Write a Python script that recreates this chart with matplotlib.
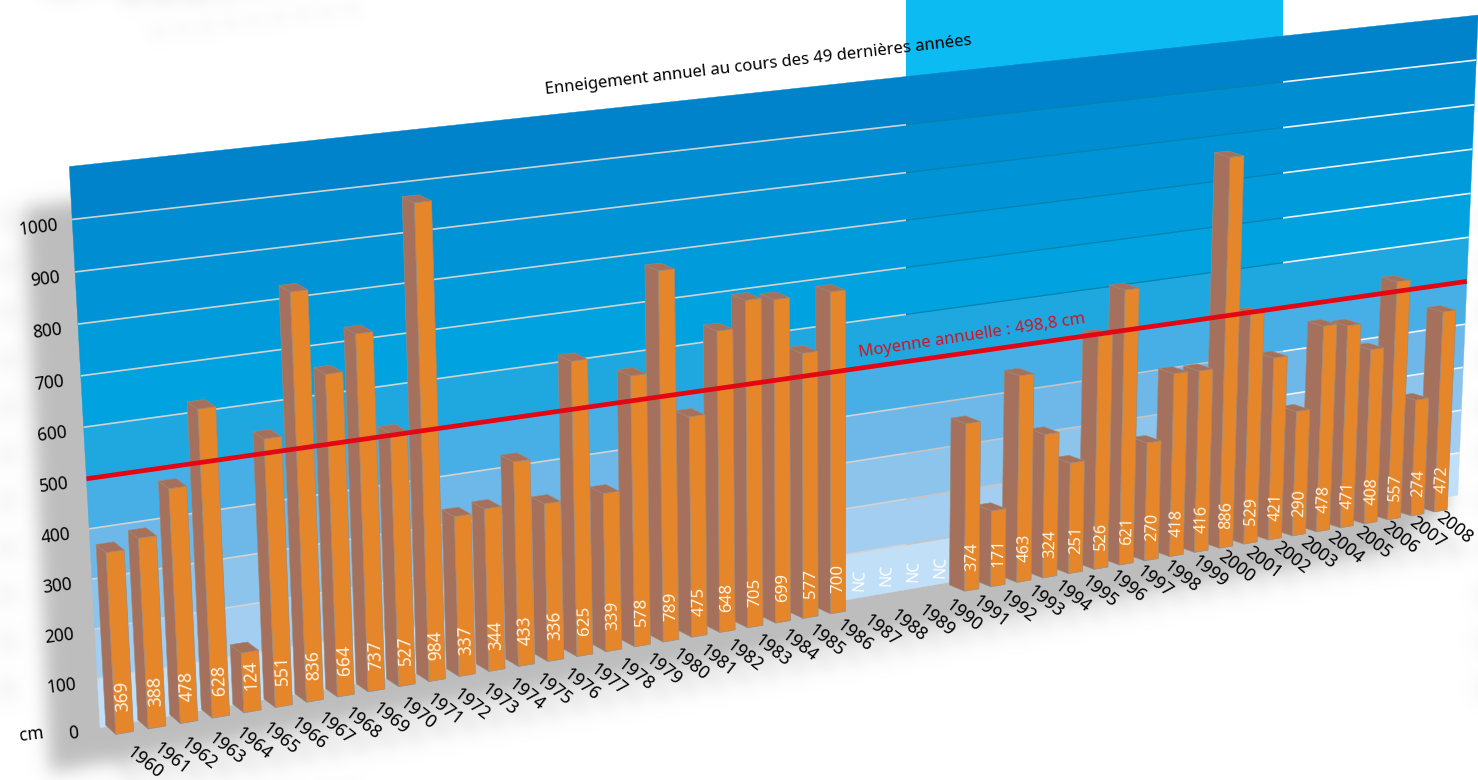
import numpy as np
import matplotlib
matplotlib.use("Agg")
import matplotlib.pyplot as plt
from matplotlib.path import Path
from matplotlib.patches import Rectangle

plt.rcParams['font.family'] = ['Noto Sans', 'DejaVu Sans']

# ---------- data ----------
years = list(range(1960, 2009))
values = [369, 388, 478, 628, 124, 551, 836, 664, 737, 527, 984, 337, 344, 433, 336, 625, 339,
          578, 789, 475, 648, 705, 699, 577, 700, None, None, None, None, 374, 171, 463, 324,
          251, 526, 621, 270, 418, 416, 886, 529, 421, 290, 478, 471, 408, 557, 274, 472]
y_ticks = [0, 100, 200, 300, 400, 500, 600, 700, 800, 900, 1000]
mean_value = 498.8
wall_top = 1100
band_colors = ['#C2DFF8', '#A3CEF1', '#8CC4EC', '#6DB8E9', '#47AFE5', '#1FA8E0',
               '#00A3DF', '#009BDB', '#0093D5', '#008DD2', '#0083CB']

# ---------- perspective calibration (u, v, px, py) ----------
wall_cal = [(0, 0, 100, 727), (0, 500, 86, 480), (0, 1000, 72, 218), (0, 1100, 70, 167),
            (1, 0, 1458, 494), (1, 500, 1467, 283), (1, 1000, 1476, 59), (1, 1100, 1478, 15)]
front_cal = [(0, 0, 115.7, 734.3), (0, 369, 106.7, 554.3), (6, 0, 306, 702.3), (6, 836, 290, 292.7),
             (10, 984, 415, 200.7), (39, 0, 1218, 547.7), (39, 886, 1229, 156.7), (46, 0, 1388, 519),
             (46, 557, 1397, 283), (48, 0, 1435, 511), (48, 472, 1444, 314)]
back_cal = [(0, 0, 105.3, 726), (0, 369, 96.7, 545), (6, 836, 279.3, 285.7), (10, 984, 402.3, 194.3),
            (29, 0, 949, 583), (29, 374, 950, 421),
            (39, 886, 1214, 151.7), (46, 557, 1381.7, 278), (48, 0, 1419, 505), (48, 472, 1427, 309)]


def fit_h(cal):
    A, b = [], []
    for u, v, x, y in cal:
        v = v / 1000.0
        A.append([u, v, 1, 0, 0, 0, -u * x, -v * x])
        b.append(x)
        A.append([0, 0, 0, u, v, 1, -u * y, -v * y])
        b.append(y)
    s = np.linalg.lstsq(np.array(A, float), np.array(b, float), rcond=None)[0]
    return np.append(s, 1.0).reshape(3, 3)


H_wall, H_front, H_back = fit_h(wall_cal), fit_h(front_cal), fit_h(back_cal)


def proj(H, u, v):
    u, v = np.asarray(u, float), np.asarray(v, float) / 1000.0
    w = H[2, 0] * u + H[2, 1] * v + 1
    return (H[0, 0] * u + H[0, 1] * v + H[0, 2]) / w, (H[1, 0] * u + H[1, 1] * v + H[1, 2]) / w


fig = plt.figure(figsize=(14.78, 7.8), dpi=100)
ax = fig.add_axes([0, 0, 1, 1])
ax.set_xlim(0, 1478)
ax.set_ylim(780, 0)
ax.axis('off')

# ---------- blurred drop shadow ----------
H_, W_ = 780, 1478
gx, gy = np.meshgrid(np.arange(W_) + .5, np.arange(H_) + .5)
pts = np.c_[gx.ravel(), gy.ravel()]


def poly_mask(p):
    return Path(p).contains_points(pts).reshape(H_, W_).astype(float)


def blur(m, s):
    kx = np.fft.fftfreq(W_)[None, :]
    ky = np.fft.fftfreq(H_)[:, None]
    return np.real(np.fft.ifft2(np.fft.fft2(m) * np.exp(-2 * (np.pi * s) ** 2 * (kx ** 2 + ky ** 2))))


solid = poly_mask([(24, 208), (110, 196), (1400, 300), (1450, 505), (1385, 548), (860, 634),
                   (400, 710), (50, 772)])
lumps = np.zeros((H_, W_))
for k in range(len(years)):
    x0, y0 = 112 + 27.3 * k, 762 - 4.9 * k
    lumps = np.maximum(lumps, poly_mask([(x0, y0), (x0 + 9, y0 - 7), (x0 + 42, y0 + 24), (x0 + 33, y0 + 32)]))
for t in y_ticks:
    yy = 690 - 0.47 * t
    lumps = np.maximum(lumps, 0.5 * poly_mask([(0, yy - 10), (14, yy - 12), (14, yy + 8), (0, yy + 10)]))
faint = np.zeros((H_, W_))
for k in range(9):
    x0, y0 = 150 + 24 * k, 28 - 3 * k
    faint = np.maximum(faint, poly_mask([(x0, y0), (x0 + 9, y0 - 3), (x0 + 18, y0 + 8), (x0 + 8, y0 + 12)]))
alpha = np.clip(blur(solid, 9) + 0.5 * blur(lumps, 9) + 0.16 * blur(faint, 7), 0, 1)
rgba = np.zeros((H_, W_, 4))
rgba[..., :3] = 0.745
rgba[..., 3] = alpha
ax.imshow(rgba, extent=(0, 1478, 780, 0), zorder=0, aspect='auto', interpolation='bilinear')
ax.set_xlim(0, 1478)
ax.set_ylim(780, 0)

# ---------- cyan panel behind wall ----------
ax.add_patch(Rectangle((906, 0), 377, 90, facecolor='#0BBBF1', edgecolor='none', zorder=1))

# ---------- wall bands ----------
edges = y_ticks + [wall_top]
for lo, hi, c in zip(edges[:-1], edges[1:], band_colors):
    xa, ya = proj(H_wall, [0, 1, 1, 0], [lo, lo, hi, hi])
    ax.fill(xa, ya, facecolor=c, edgecolor=c, linewidth=0.3, zorder=2)

# ---------- grid lines ----------
us = np.array([0.0, 1.0])
for t in y_ticks[1:]:
    xl, yl = proj(H_wall, us, [t, t])
    col_l, col_m, col_r = '#D2D2D2', ('#0084AC' if t >= 500 else '#C4C4C4'), '#F2F2F2'
    for c, cx0, cx1 in [(col_l, 0, 906), (col_m, 906, 1283), (col_r, 1283, 1478)]:
        ln, = ax.plot(xl, yl, color=c, lw=1.2 if c != col_m or t < 500 else 0.9, zorder=3,
                      solid_capstyle='butt')
        ln.set_clip_path(Rectangle((cx0, 0), cx1 - cx0, 780, transform=ax.transData))

# ---------- bars, right to left ----------
W = 0.55
ORANGE, BROWN, EDGE = '#E6862A', '#A5715C', '#9C8B7E'
for i in range(len(values) - 1, -1, -1):
    v = values[i]
    if v is None:
        continue
    fx, fy = proj(H_front, [i, i + W, i + W, i], [0, 0, v, v])
    bx, by = proj(H_back, [i, i + W, i + W, i], [0, 0, v, v])
    z = 5 + (len(values) - i) * 0.01
    ax.fill([bx[0], fx[0], fx[3], bx[3]], [by[0], fy[0], fy[3], by[3]], facecolor=BROWN,
            edgecolor=EDGE, lw=0.4, zorder=z)
    ax.fill([bx[3], bx[2], fx[2], fx[3]], [by[3], by[2], fy[2], fy[3]], facecolor=BROWN,
            edgecolor=EDGE, lw=0.4, zorder=z)
    ax.fill(fx, fy, facecolor=ORANGE, edgecolor=EDGE, lw=0.5, zorder=z)

    # value label, along the bar
    cx0, cy0 = proj(H_front, i + W / 2, 75)
    cx1, cy1 = proj(H_front, i + W / 2, 175)
    ang = np.degrees(np.arctan2(cy0 - cy1, cx1 - cx0))
    size = 12.8 * ((cy0 - cy1) / 49.0) ** 0.7
    ax.text(cx0, cy0, str(v), color='#FFF3E2', fontsize=size, rotation=ang, rotation_mode='anchor',
            ha='center', va='center', zorder=z + 0.001)

# ---------- NC labels ----------
for i, v in enumerate(values):
    if v is None:
        nx, ny = proj(H_front, i + 0.1, 65)
        ax.text(nx, ny, 'NC', color='white', fontsize=11.5, rotation=88, rotation_mode='anchor',
                ha='center', va='center', zorder=4)

# ---------- mean line ----------
mx, my = proj(H_wall, us, [mean_value, mean_value])
ax.plot(mx, my, color='#E30613', lw=3.4, zorder=8, solid_capstyle='butt')
ax.text(972, 335.5, 'Moyenne annuelle : 498,8 cm', color='#D5121E', fontsize=12, rotation=8.6,
        rotation_mode='anchor', ha='center', va='center', zorder=9)

# ---------- axis labels ----------
for t in y_ticks:
    tx, ty = proj(H_wall, 0, t)
    ax.text(tx - 22 + 0.008 * t, ty + 5.5, str(t), color='black', fontsize=12.4, rotation=7,
            rotation_mode='anchor', ha='right', va='center', zorder=9)
ax.text(31, 735, 'cm', color='black', fontsize=12.4, rotation=7, rotation_mode='anchor',
        ha='center', va='center', zorder=9)
for k, yr in enumerate(years):
    ax.text(128.3 + 27.3 * k, 750.5 - 4.9 * k, str(yr), color='black', fontsize=12.8, rotation=-38,
            rotation_mode='anchor', ha='left', va='center', zorder=9)

ax.text(758, 65, 'Enneigement annuel au cours des 49 dernières années', color='black', fontsize=12,
        rotation=6.6, rotation_mode='anchor', ha='center', va='center', zorder=9)

fig.savefig('out.png', dpi=100)
